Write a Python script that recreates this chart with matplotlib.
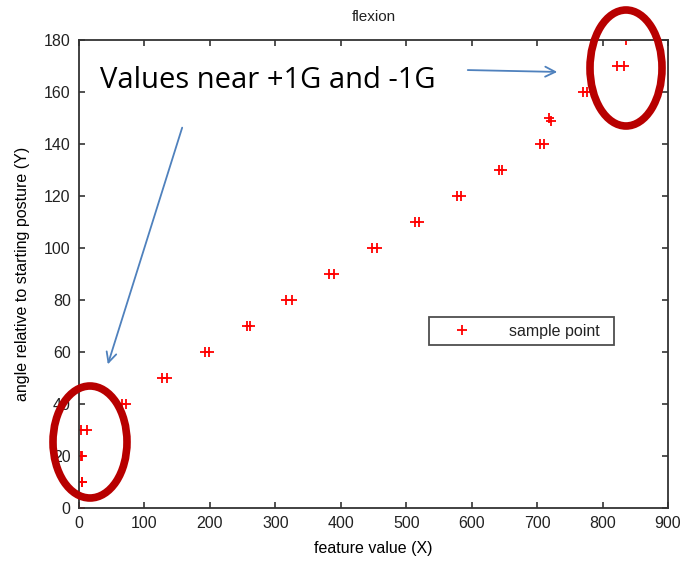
import matplotlib.pyplot as plt
import numpy as np
from matplotlib.patches import Ellipse, FancyArrowPatch

plt.rcParams['font.family'] = ['Liberation Sans', 'DejaVu Sans']
plt.rcParams['font.size'] = 11.5
plt.rcParams['text.color'] = '#222222'
plt.rcParams['xtick.color'] = '#333333'
plt.rcParams['ytick.color'] = '#333333'
plt.rcParams['xtick.labelcolor'] = '#222222'
plt.rcParams['ytick.labelcolor'] = '#222222'

# sample points (two samples per angle, mostly)
feat_x = [0, 4, 5, 3, 5, 3, 12, 66, 72, 127, 134, 192, 198, 256, 262, 316, 326,
          382, 389, 448, 455, 514, 520, 577, 583, 641, 647, 704, 711, 718, 721,
          770, 776, 822, 832, 836]
angle_y = [0, 10, 10, 20, 20, 30, 30, 40, 40, 50, 50, 60, 60, 70, 70, 80, 80,
           90, 90, 100, 100, 110, 110, 120, 120, 130, 130, 140, 140, 150, 149,
           160, 160, 170, 170, 180]

fig = plt.figure(figsize=(6.83, 5.68), dpi=100)
ax = fig.add_axes([0.1157, 0.1056, 0.8624, 0.824])

ax.plot(feat_x, angle_y, '+', color='red', ms=7, mew=1.3, label='sample point')
ax.set_xlim(0, 900)
ax.set_ylim(0, 180)
ax.set_xticks(np.arange(0, 901, 100))
ax.set_yticks(np.arange(0, 181, 20))
ax.tick_params(direction='in', top=True, right=True, length=4, width=1.2,
               labelsize=11.5, pad=6)
for s in ax.spines.values():
    s.set_color('#333333')
    s.set_linewidth(1.3)
ax.set_title('flexion', fontsize=11, pad=14)
ax.set_xlabel('feature value (X)', fontsize=11.5, labelpad=7)
ax.set_ylabel('angle relative to starting posture (Y)', fontsize=11.5, labelpad=10)

leg = ax.legend(bbox_to_anchor=(0.594, 0.348, 0.314, 0.081), loc='lower left',
                mode='expand', borderaxespad=0, fancybox=False, fontsize=11.5,
                handletextpad=1.2, handlelength=3.4)
leg.get_frame().set_edgecolor('#222222')
leg.get_frame().set_linewidth(1.3)

# overlay annotations (figure pixel coordinates)
W, H = 683, 568
def fx(p):
    return p / W
def fy(p):
    return 1 - p / H

fig.text(fx(100), fy(80), 'Values near +1G and -1G', family=['Open Sans', 'DejaVu Sans'],
         fontsize=21, va='center', ha='left', color='black')

for (cx, cy, w, h) in [(90, 442, 74, 112), (626, 68, 72, 116)]:
    fig.patches.append(Ellipse((fx(cx), fy(cy)), w / W, h / H, transform=fig.transFigure,
                               fill=False, edgecolor='#b80000', lw=5.5))

for (x0, y0, x1, y1) in [(183, 125, 107, 367), (465, 70, 560, 72)]:
    fig.patches.append(FancyArrowPatch((fx(x0), fy(y0)), (fx(x1), fy(y1)),
                                       transform=fig.transFigure, arrowstyle='->',
                                       mutation_scale=18, color='#4f81bd', lw=1.3))

plt.savefig('out.png')
